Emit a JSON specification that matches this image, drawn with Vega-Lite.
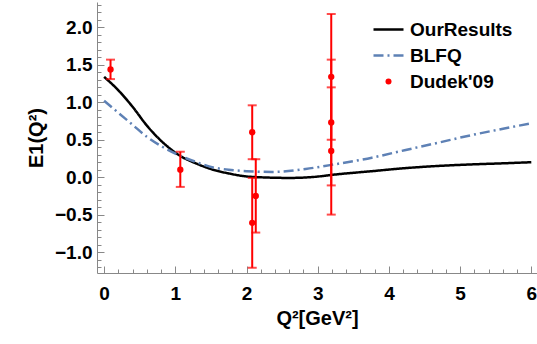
{
  "$schema": "https://vega.github.io/schema/vega-lite/v6.json",
  "width": 440,
  "height": 271,
  "autosize": "none",
  "padding": {"left": 97, "top": 2, "right": 0, "bottom": 71},
  "background": "white",
  "config": {
    "view": {"stroke": null},
    "font": "Liberation Sans",
    "axis": {
      "grid": false,
      "domainColor": "#888888",
      "tickColor": "#888888",
      "labelColor": "black",
      "labelFont": "Liberation Sans",
      "labelFontSize": 19,
      "labelFontWeight": "bold",
      "labelOverlap": false,
      "labelFlush": false,
      "titleFont": "Liberation Sans",
      "titleFontSize": 20,
      "titleFontWeight": "bold",
      "titleColor": "black"
    }
  },
  "datasets": {
    "curves": [
      {"series": "OurResults", "x": 0.0, "y": 1.34},
      {"series": "OurResults", "x": 0.2, "y": 1.16},
      {"series": "OurResults", "x": 0.4, "y": 0.94},
      {"series": "OurResults", "x": 0.6, "y": 0.69},
      {"series": "OurResults", "x": 0.83, "y": 0.46},
      {"series": "OurResults", "x": 1.06, "y": 0.29},
      {"series": "OurResults", "x": 1.3, "y": 0.18},
      {"series": "OurResults", "x": 1.53, "y": 0.1},
      {"series": "OurResults", "x": 1.75, "y": 0.05},
      {"series": "OurResults", "x": 2.0, "y": 0.01},
      {"series": "OurResults", "x": 2.3, "y": -0.005},
      {"series": "OurResults", "x": 2.6, "y": -0.01},
      {"series": "OurResults", "x": 2.9, "y": 0.0},
      {"series": "OurResults", "x": 3.29, "y": 0.04},
      {"series": "OurResults", "x": 3.76, "y": 0.08},
      {"series": "OurResults", "x": 4.22, "y": 0.12},
      {"series": "OurResults", "x": 4.69, "y": 0.15},
      {"series": "OurResults", "x": 5.15, "y": 0.17},
      {"series": "OurResults", "x": 5.6, "y": 0.185},
      {"series": "OurResults", "x": 6.0, "y": 0.2},
      {"series": "BLFQ", "x": 0.0, "y": 1.02},
      {"series": "BLFQ", "x": 0.2, "y": 0.86},
      {"series": "BLFQ", "x": 0.4, "y": 0.7},
      {"series": "BLFQ", "x": 0.6, "y": 0.54},
      {"series": "BLFQ", "x": 0.83, "y": 0.4},
      {"series": "BLFQ", "x": 1.06, "y": 0.29},
      {"series": "BLFQ", "x": 1.3, "y": 0.2},
      {"series": "BLFQ", "x": 1.53, "y": 0.13},
      {"series": "BLFQ", "x": 1.75, "y": 0.1},
      {"series": "BLFQ", "x": 2.0, "y": 0.08},
      {"series": "BLFQ", "x": 2.36, "y": 0.07},
      {"series": "BLFQ", "x": 2.83, "y": 0.11},
      {"series": "BLFQ", "x": 3.29, "y": 0.18},
      {"series": "BLFQ", "x": 3.76, "y": 0.26},
      {"series": "BLFQ", "x": 4.22, "y": 0.36},
      {"series": "BLFQ", "x": 4.69, "y": 0.46},
      {"series": "BLFQ", "x": 5.15, "y": 0.56},
      {"series": "BLFQ", "x": 5.62, "y": 0.65},
      {"series": "BLFQ", "x": 6.0, "y": 0.72}
    ],
    "dudek": [
      {"x": 0.09, "y": 1.44, "lo": 1.31, "hi": 1.57},
      {"x": 1.07, "y": 0.1, "lo": -0.13, "hi": 0.34},
      {"x": 2.08, "y": 0.6, "lo": 0.24, "hi": 0.96},
      {"x": 2.08, "y": -0.61, "lo": -1.21, "hi": -0.01},
      {"x": 2.13, "y": -0.25, "lo": -0.74, "hi": 0.24},
      {"x": 3.19, "y": 1.34, "lo": 0.5, "hi": 2.18},
      {"x": 3.19, "y": 0.73, "lo": -0.11, "hi": 1.57},
      {"x": 3.19, "y": 0.35, "lo": -0.5, "hi": 1.2}
    ]
  },
  "encoding": {
    "x": {
      "field": "x",
      "type": "quantitative",
      "scale": {"domain": [-0.1, 6.08], "nice": false, "zero": false},
      "axis": {
        "title": "Q²[GeV²]",
        "values": [0, 0.2, 0.4, 0.6, 0.8, 1, 1.2, 1.4, 1.6, 1.8, 2, 2.2, 2.4, 2.6, 2.8, 3, 3.2, 3.4, 3.6, 3.8, 4, 4.2, 4.4, 4.6, 4.8, 5, 5.2, 5.4, 5.6, 5.8, 6],
        "labelExpr": "abs(datum.value - round(datum.value)) < 0.01 ? format(datum.value, 'd') : ''",
        "tickSize": {"condition": {"test": "abs(datum.value - round(datum.value)) < 0.01", "value": -7}, "value": -4},
        "labelPadding": 18,
        "titlePadding": 2
      }
    },
    "y": {
      "field": "y",
      "type": "quantitative",
      "scale": {"domain": [-1.28, 2.34], "nice": false, "zero": false},
      "axis": {
        "title": "E1(Q²)",
        "values": [-1.2, -1.1, -1.0, -0.9, -0.8, -0.7, -0.6, -0.5, -0.4, -0.3, -0.2, -0.1, 0, 0.1, 0.2, 0.3, 0.4, 0.5, 0.6, 0.7, 0.8, 0.9, 1.0, 1.1, 1.2, 1.3, 1.4, 1.5, 1.6, 1.7, 1.8, 1.9, 2.0, 2.1, 2.2, 2.3],
        "labelExpr": "abs(datum.value * 2 - round(datum.value * 2)) < 0.01 ? format(datum.value, '.1f') : ''",
        "tickSize": {"condition": {"test": "abs(datum.value * 2 - round(datum.value * 2)) < 0.01", "value": -7}, "value": -4},
        "labelPadding": 12,
        "titlePadding": 8
      }
    }
  },
  "layer": [
    {
      "data": {"name": "curves"},
      "mark": {"type": "line", "strokeWidth": 2.5, "interpolate": "monotone"},
      "encoding": {
        "color": {
          "field": "series",
          "type": "nominal",
          "scale": {"domain": ["OurResults", "BLFQ", "Dudek'09"], "range": ["black", "#5E81B5", "#FF0000"]},
          "legend": {
            "title": null,
            "orient": "none",
            "legendX": 282,
            "legendY": 18,
            "symbolType": "stroke",
            "symbolSize": 900,
            "symbolStrokeWidth": 2.5,
            "labelFontSize": 19,
            "labelFontWeight": "bold",
            "labelFont": "Liberation Sans",
            "labelColor": "black",
            "rowPadding": 6,
            "labelOffset": 12,
            "encode": {
              "symbols": {
                "update": {
                  "shape": {"signal": "(datum.value != 'OurResults' && datum.value != 'BLFQ') ? 'circle' : 'stroke'"},
                  "size": {"signal": "(datum.value != 'OurResults' && datum.value != 'BLFQ') ? 36 : 900"},
                  "fill": {"signal": "(datum.value != 'OurResults' && datum.value != 'BLFQ') ? '#FF0000' : 'transparent'"},
                  "strokeWidth": {"signal": "(datum.value != 'OurResults' && datum.value != 'BLFQ') ? 0 : 2.5"},
                  "strokeDash": {"signal": "datum.value == 'BLFQ' ? [10, 4, 2, 4] : [1, 0]"}
                }
              }
            }
          }
        },
        "strokeDash": {
          "field": "series",
          "type": "nominal",
          "scale": {"domain": ["OurResults", "BLFQ"], "range": [[1, 0], [10, 4, 2, 4]]},
          "legend": null
        }
      }
    },
    {
      "data": {"name": "dudek"},
      "mark": {"type": "errorbar", "ticks": {"size": 9, "thickness": 2}, "thickness": 2, "color": "#FF0000"},
      "encoding": {
        "y": {"field": "lo", "type": "quantitative"},
        "y2": {"field": "hi"}
      }
    },
    {
      "data": {"name": "dudek"},
      "mark": {"type": "circle", "size": 40, "opacity": 1, "color": "#FF0000"},
      "encoding": {}
    }
  ]
}
